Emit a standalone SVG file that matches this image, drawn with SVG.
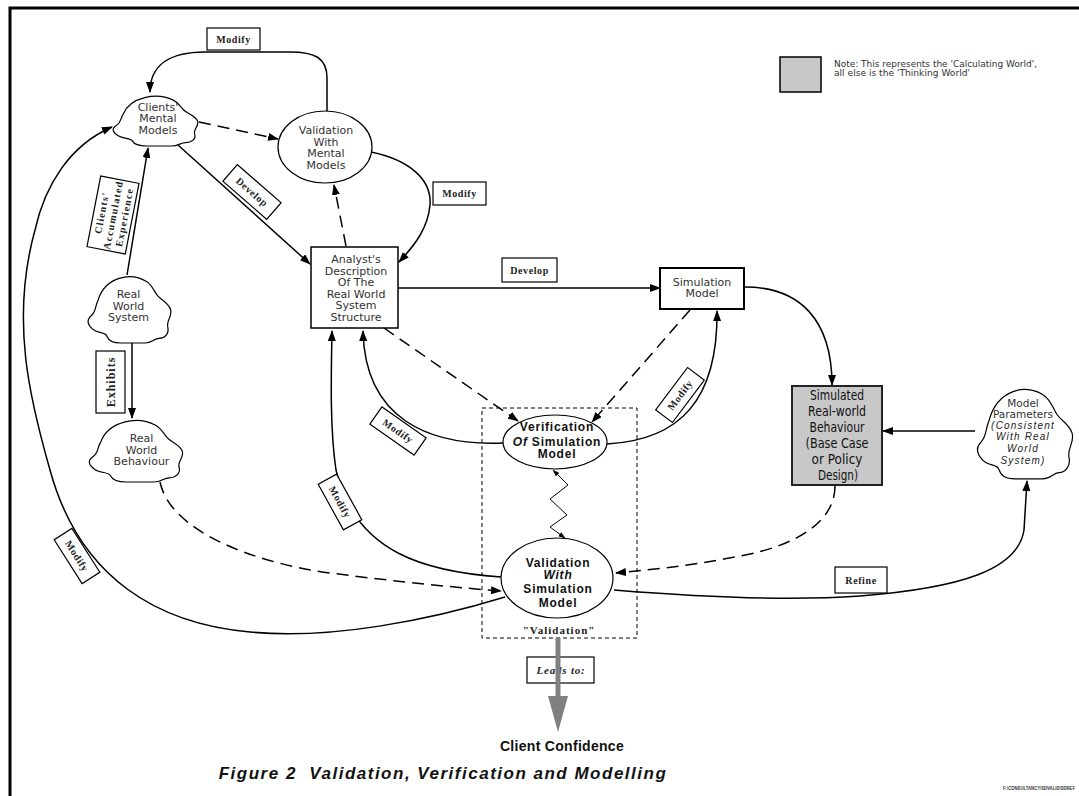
<svg xmlns="http://www.w3.org/2000/svg" width="1079" height="796" viewBox="0 0 1079 796">
<defs>
<marker id="ah" markerUnits="userSpaceOnUse" markerWidth="11" markerHeight="8" refX="10" refY="4" orient="auto"><path d="M0,0 L11,4 L0,8 z" fill="#000"/></marker>
<marker id="ahs" markerUnits="userSpaceOnUse" markerWidth="7" markerHeight="5" refX="6.5" refY="2.5" orient="auto-start-reverse"><path d="M0,0 L7,2.5 L0,5 z" fill="#000"/></marker>
<path id="cloud" d="M14,22 C18,12 26,6 38,3 C50,0 62,2 70,6 C76,9 78,14 82,18 C86,22 94,24 97,30 C100,36 92,40 94,46 C96,52 90,56 84,56 C78,56 76,60 68,60 L40,60 C30,60 26,58 24,54 C22,50 14,52 8,48 C2,44 0,40 6,36 C12,32 10,28 14,22 Z" fill="#fff" stroke="#000" stroke-width="1.2" vector-effect="non-scaling-stroke"/>
</defs>
<style>
.c{fill:none;stroke:#000;stroke-width:1.5}
.d{stroke-dasharray:12 7}
.t{font-family:"DejaVu Sans",sans-serif;font-size:11px;fill:#333;text-anchor:middle}
.lb{fill:#fff;stroke:#000;stroke-width:1.2}
.lt{font-family:"Liberation Serif",serif;font-weight:bold;font-size:10px;letter-spacing:0.6px;text-anchor:middle;fill:#222}
.bt{font-family:"Liberation Sans",Arial,sans-serif;font-weight:bold;font-size:12px;letter-spacing:0.8px;text-anchor:middle;fill:#111}
.it{font-family:"Liberation Sans",Arial,sans-serif;font-style:italic;font-size:10px;letter-spacing:1.2px;text-anchor:middle;fill:#222}
</style>
<rect width="1079" height="796" fill="#fff"/>
<g id="frame" fill="none" stroke="#000" stroke-width="3">
<path d="M10,796 L10,8 L1079,8"/>
</g>

<g id="connectors">
<path id="e-top-modify" class="c" d="M327,112 L327,78 C327,58 315,52 290,52 L205,52 C170,52 150,65 150,92" marker-end="url(#ah)"/>
<path id="e-cmm-vmm" class="c d" d="M199,122 L278,139" marker-end="url(#ah)"/>
<path id="e-cmm-ads" class="c" d="M178,145 L310,264" marker-end="url(#ah)"/>
<path id="e-vmm-ads" class="c" d="M371,152 C410,160 432,180 430,205 C428,228 415,245 399,262" marker-end="url(#ah)"/>
<path id="e-ads-vmm" class="c d" d="M346,246 L334,185" marker-end="url(#ah)"/>
<path id="e-rws-cmm" class="c" d="M127,275 L148,148" marker-end="url(#ah)"/>
<path id="e-rws-rwb" class="c" d="M132,343 L132,418" marker-end="url(#ah)"/>
<path id="e-ads-sm" class="c" d="M398,288 L660,288" marker-end="url(#ah)"/>
<path id="e-sm-srb" class="c" d="M745,287 C800,287 832,320 832,385" marker-end="url(#ah)"/>
<path id="e-ads-ver" class="c d" d="M384,328 L518,421" marker-end="url(#ah)"/>
<path id="e-sm-ver" class="c d" d="M690,310 L592,422" marker-end="url(#ah)"/>
<path id="e-ver-ads" class="c" d="M503,443 C430,446 365,420 363,331" marker-end="url(#ah)"/>
<path id="e-ver-sm" class="c" d="M607,444 C680,440 718,400 717,311" marker-end="url(#ah)"/>
<path id="e-vsm-ads" class="c" d="M501,577 C430,572 355,555 336,470 C330,430 331,380 332,331" marker-end="url(#ah)"/>
<path id="e-vsm-cmm" class="c" d="M505,597 C430,620 330,640 250,632 C160,624 80,580 50,470 C30,400 10,320 35,230 C45,185 70,145 112,127" marker-end="url(#ah)"/>
<path id="e-rwb-vsm" class="c d" d="M160,482 C170,530 250,562 330,573 C400,582 460,588 501,591" marker-end="url(#ah)"/>
<path id="e-srb-vsm" class="c d" d="M835,486 C835,520 800,545 740,556 C700,564 660,569 616,573" marker-end="url(#ah)"/>
<path id="e-vsm-mp" class="c" d="M614,590 C700,597 790,601 860,596 C960,588 1018,570 1024,530 L1027,481" marker-end="url(#ah)"/>
<path id="e-mp-srb" class="c" d="M975,431 L883,431" marker-end="url(#ah)"/>
<polyline id="e-zigzag" fill="none" stroke="#000" stroke-width="1" points="553,470 568,485 550,499 567,515 550,527 565,538" marker-start="url(#ahs)" marker-end="url(#ahs)"/>
</g>

<g id="validation-box">
<rect x="482" y="408" width="155" height="230" fill="none" stroke="#000" stroke-width="1" stroke-dasharray="4 3"/>
<text x="559" y="634" class="lt" style="font-size:11px;letter-spacing:1px">"Validation"</text>
</g>

<g id="n-cmm">
<use href="#cloud" transform="translate(111,95) scale(0.89,0.85)"/>
<text class="t" x="158"><tspan x="158" y="111">Clients'</tspan><tspan x="158" y="122">Mental</tspan><tspan x="158" y="134">Models</tspan></text>
</g>
<g id="n-vmm">
<ellipse cx="325" cy="147" rx="47" ry="36" fill="#fff" stroke="#000" stroke-width="1.2"/>
<text class="t"><tspan x="326" y="134">Validation</tspan><tspan x="326" y="146">With</tspan><tspan x="326" y="157">Mental</tspan><tspan x="326" y="169">Models</tspan></text>
</g>
<g id="n-rws">
<use href="#cloud" transform="translate(86,275) scale(0.87,1.133)"/>
<text class="t"><tspan x="128.5" y="298">Real</tspan><tspan x="128.5" y="310">World</tspan><tspan x="128.5" y="321">System</tspan></text>
</g>
<g id="n-rwb">
<use href="#cloud" transform="translate(87,419) scale(0.98,1.05)"/>
<text class="t"><tspan x="141.5" y="442">Real</tspan><tspan x="141.5" y="454">World</tspan><tspan x="141.5" y="465">Behaviour</tspan></text>
</g>
<g id="n-ads">
<rect x="311" y="247" width="87" height="81" fill="#fff" stroke="#000" stroke-width="1.5"/>
<text class="t"><tspan x="356" y="263">Analyst's</tspan><tspan x="356" y="274.6">Description</tspan><tspan x="356" y="286.2">Of The</tspan><tspan x="356" y="297.8">Real World</tspan><tspan x="356" y="309.4">System</tspan><tspan x="356" y="321">Structure</tspan></text>
</g>
<g id="n-sm">
<rect x="660" y="268" width="84" height="41" fill="#fff" stroke="#000" stroke-width="2"/>
<text class="t"><tspan x="702" y="286">Simulation</tspan><tspan x="702" y="297">Model</tspan></text>
</g>
<g id="n-srb">
<rect x="792" y="386" width="90" height="99" fill="#c8c8c8" stroke="#222" stroke-width="2"/>
<text class="t" style="font-size:13.5px;fill:#111"><tspan x="837" y="400" textLength="54" lengthAdjust="spacingAndGlyphs">Simulated</tspan></text>
<text class="t" style="font-size:13.5px;fill:#111"><tspan x="837" y="416" textLength="58" lengthAdjust="spacingAndGlyphs">Real-world</tspan></text>
<text class="t" style="font-size:13.5px;fill:#111"><tspan x="837" y="432" textLength="55" lengthAdjust="spacingAndGlyphs">Behaviour</tspan></text>
<text class="t" style="font-size:13.5px;fill:#111"><tspan x="837" y="448" textLength="63" lengthAdjust="spacingAndGlyphs">(Base Case</tspan></text>
<text class="t" style="font-size:13.5px;fill:#111"><tspan x="837" y="464" textLength="51" lengthAdjust="spacingAndGlyphs">or Policy</tspan></text>
<text class="t" style="font-size:13.5px;fill:#111"><tspan x="838" y="480" textLength="40" lengthAdjust="spacingAndGlyphs">Design)</tspan></text>
</g>
<g id="n-mp">
<use href="#cloud" transform="translate(975,387) scale(1.0,1.53)"/>
<text class="t" style="font-size:10.5px"><tspan x="1023" y="407">Model</tspan><tspan x="1023" y="418">Parameters</tspan></text>
<text class="it"><tspan x="1023" y="429">(Consistent</tspan><tspan x="1023" y="440">With Real</tspan><tspan x="1023" y="452">World</tspan><tspan x="1023" y="464">System)</tspan></text>
</g>
<g id="n-ver">
<ellipse cx="555" cy="442" rx="52" ry="27" fill="#fff" stroke="#000" stroke-width="1.2"/>
<text class="bt"><tspan x="557" y="431">Verification</tspan><tspan x="557" y="446"><tspan font-style="italic">Of</tspan> Simulation</tspan><tspan x="557" y="458">Model</tspan></text>
</g>
<g id="n-vsm">
<ellipse cx="557" cy="578" rx="56" ry="40" fill="#fff" stroke="#000" stroke-width="1.2"/>
<text class="bt"><tspan x="558" y="567">Validation</tspan><tspan x="558" y="579" font-style="italic">With</tspan><tspan x="558" y="593">Simulation</tspan><tspan x="558" y="607">Model</tspan></text>
</g>

<g id="labels">
<g transform="translate(233.5,39)"><rect x="-26.5" y="-11" width="53" height="22" class="lb"/><text y="3.5" class="lt">Modify</text></g>
<g transform="translate(459.5,193.5)"><rect x="-26.5" y="-11.5" width="53" height="23" class="lb"/><text y="3.5" class="lt">Modify</text></g>
<g transform="translate(252,192) rotate(41)"><rect x="-29" y="-11" width="58" height="22" class="lb"/><text y="3.5" class="lt">Develop</text></g>
<g transform="translate(529.5,270)"><rect x="-27.5" y="-12" width="55" height="24" class="lb"/><text y="3.5" class="lt">Develop</text></g>
<g transform="translate(113,215) rotate(-79)"><rect x="-36" y="-19.5" width="72" height="39" class="lb"/><text class="lt" style="letter-spacing:1.2px"><tspan x="0" y="-8">Clients'</tspan><tspan x="0" y="3.5">Accumulated</tspan><tspan x="0" y="15">Experience</tspan></text></g>
<g transform="translate(110.5,382) rotate(-90)"><rect x="-31" y="-14.5" width="62" height="29" class="lb"/><text y="4" class="lt" style="font-size:12px;letter-spacing:1px">Exhibits</text></g>
<g transform="translate(398,431) rotate(35)"><rect x="-27" y="-10.5" width="54" height="21" class="lb"/><text y="3.5" class="lt">Modify</text></g>
<g transform="translate(340,502) rotate(61)"><rect x="-26" y="-10.5" width="52" height="21" class="lb"/><text y="3.5" class="lt">Modify</text></g>
<g transform="translate(680,395) rotate(-53)"><rect x="-26.5" y="-10.5" width="53" height="21" class="lb"/><text y="3.5" class="lt">Modify</text></g>
<g transform="translate(77,556) rotate(57.5)"><rect x="-26" y="-10.5" width="52" height="21" class="lb"/><text y="3.5" class="lt">Modify</text></g>
<g transform="translate(861,580)"><rect x="-26" y="-13" width="52" height="26" class="lb"/><text y="3.5" class="lt">Refine</text></g>
</g>

<g id="leads-to">
<rect x="527" y="657" width="67" height="26" fill="none" stroke="#000" stroke-width="1.2"/>
<text x="561" y="674" class="lt" style="font-size:11px;font-style:italic;letter-spacing:0.8px">Leads to:</text>
<line x1="558" y1="638" x2="558" y2="700" stroke="#808080" stroke-width="5"/>
<polygon points="548,696 568,696 558,732" fill="#808080"/>
</g>
<text id="client-confidence" x="562" y="751" font-family="Liberation Sans, Arial, sans-serif" font-weight="bold" font-size="14" letter-spacing="0.3" text-anchor="middle" fill="#111">Client Confidence</text>

<g id="legend">
<rect x="780" y="57" width="41" height="35" fill="#c8c8c8" stroke="#000" stroke-width="1.5"/>
<text font-family="DejaVu Sans, sans-serif" font-size="8.5" fill="#333"><tspan x="834" y="67" textLength="203" lengthAdjust="spacingAndGlyphs">Note: This represents the 'Calculating World',</tspan><tspan x="834" y="76" textLength="136" lengthAdjust="spacingAndGlyphs">all else is the 'Thinking World'</tspan></text>
</g>

<text id="caption" x="443" y="779" font-family="Liberation Sans, Arial, sans-serif" font-weight="bold" font-style="italic" font-size="17" letter-spacing="1.5" text-anchor="middle" fill="#111" xml:space="preserve">Figure 2  Validation, Verification and Modelling</text>
<text id="footer" x="1003" y="790" font-family="Liberation Sans, Arial, sans-serif" font-weight="bold" font-size="4.5" fill="#333" textLength="72" lengthAdjust="spacingAndGlyphs">F:\CONSULTANCY\SDVALID\SDREF</text>
</svg>
